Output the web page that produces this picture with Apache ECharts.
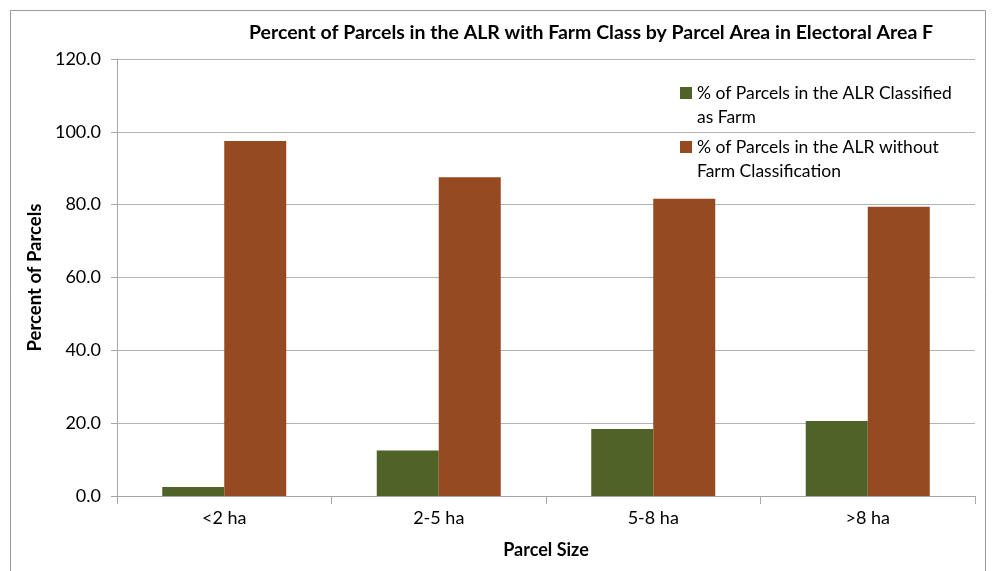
<!DOCTYPE html>
<html><head><meta charset="utf-8">
<script src="https://cdn.jsdelivr.net/npm/echarts@6/dist/echarts.min.js"></script>
<style>html,body{margin:0;padding:0;background:#fff}#c{width:992px;height:571px}</style>
</head><body><div id="c"></div>
<script>
const categories = ['<2 ha', '2-5 ha', '5-8 ha', '>8 ha'];
const farmValues = [2.5, 12.5, 18.4, 20.6];
const nonFarmValues = [97.5, 87.5, 81.6, 79.4];
const seriesNames = ['% of Parcels in the ALR Classified as Farm', '% of Parcels in the ALR without Farm Classification'];
const legendLabels = {};
legendLabels[seriesNames[0]] = '% of Parcels in the ALR Classified\nas Farm';
legendLabels[seriesNames[1]] = '% of Parcels in the ALR without\nFarm Classification';
const FONT = 'Lato, "Open Sans", sans-serif';
// square marker in the top third of a tall icon box so it sits beside the first text line
const topSquare = 'path://M0,0h12v12h-12z M0,35.99h0.01v0.01h-0.01z';
const chart = echarts.init(document.getElementById('c'));
chart.setOption({
  animation: false,
  textStyle: {fontFamily: FONT},
  title: {
    text: 'Percent of Parcels in the ALR with Farm Class by Parcel Area in Electoral Area F',
    left: 591, top: 23, textAlign: 'center', padding: 0,
    textStyle: {fontSize: 19.5, fontWeight: 'bold', color: '#000', fontFamily: FONT}
  },
  legend: {
    orient: 'vertical', left: 680, top: 81, padding: 0,
    itemWidth: 12, itemHeight: 36, itemGap: 6,
    icon: topSquare,
    formatter: n => legendLabels[n],
    textStyle: {fontSize: 17.5, lineHeight: 24, color: '#000', fontFamily: FONT}
  },
  grid: {left: 117, right: 17, top: 59, bottom: 75},
  xAxis: {
    type: 'category', data: categories,
    name: 'Parcel Size', nameLocation: 'middle', nameGap: 45,
    nameTextStyle: {fontSize: 18, fontWeight: 'bold', color: '#000'},
    axisLine: {lineStyle: {color: '#a6a6a6'}},
    axisTick: {show: true, length: 8, lineStyle: {color: '#a6a6a6'}},
    axisLabel: {fontSize: 18, color: '#000', margin: 13}
  },
  yAxis: {
    type: 'value', min: 0, max: 120, interval: 20,
    name: 'Percent of Parcels', nameLocation: 'middle', nameGap: 68,
    nameTextStyle: {fontSize: 18.5, fontWeight: 'bold', color: '#000'},
    axisLine: {show: true, lineStyle: {color: '#a6a6a6'}},
    axisTick: {show: true, length: 6, lineStyle: {color: '#a6a6a6'}},
    axisLabel: {fontSize: 18, color: '#000', margin: 16, formatter: v => v.toFixed(1)},
    splitLine: {lineStyle: {color: '#b3b3b3'}}
  },
  series: [
    {name: seriesNames[0], type: 'bar', data: farmValues, barWidth: 62, barGap: '0%',
     itemStyle: {color: '#4f6228'}},
    {name: seriesNames[1], type: 'bar', data: nonFarmValues, barWidth: 62, barGap: '0%',
     itemStyle: {color: '#954a22'}}
  ],
  graphic: [{type: 'rect', shape: {x: 10.5, y: 10.5, width: 975, height: 580},
    style: {fill: 'none', stroke: '#999', lineWidth: 1}, silent: true}]
});
</script></body></html>
